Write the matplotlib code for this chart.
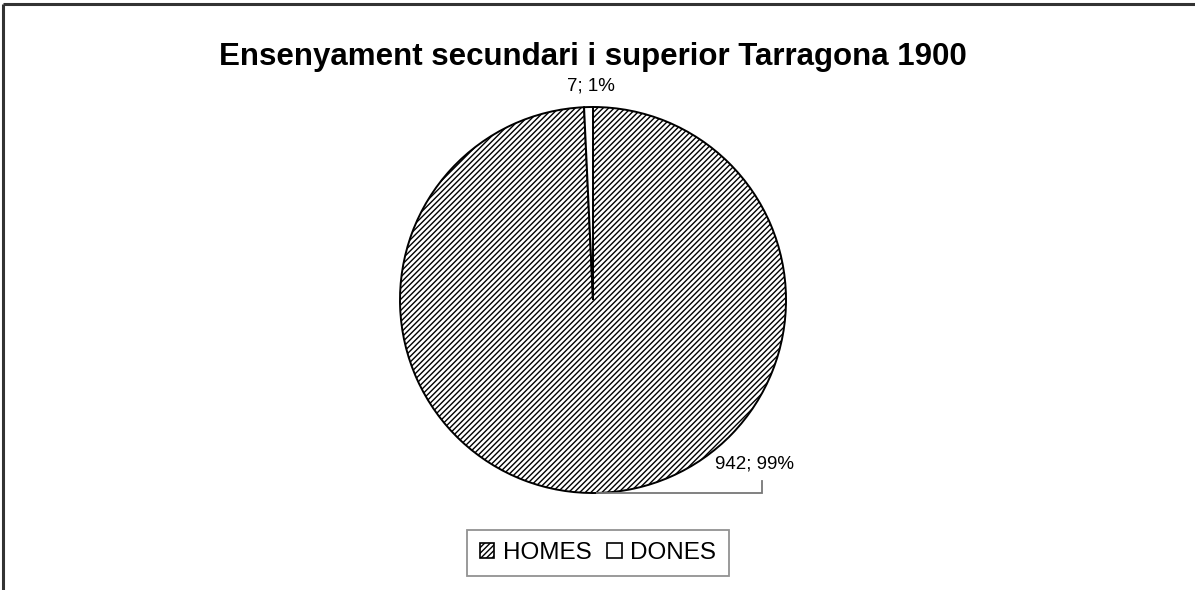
import numpy as np
import matplotlib.pyplot as plt
from matplotlib.patches import Patch

plt.rcParams['font.family'] = ['Liberation Sans', 'DejaVu Sans']
plt.rcParams['hatch.linewidth'] = 1.0
plt.rcParams['hatch.color'] = '#505050'

categories = ['HOMES', 'DONES']
values = [942, 7]
hatches = ['//////', '']
title = 'Ensenyament secundari i superior Tarragona 1900'

W, H = 1195, 590
fig = plt.figure(figsize=(W / 100, H / 100), dpi=100)
ax = fig.add_axes([0, 0, 1, 1])

# pie in pixel-like data coordinates (y up)
cx, cy, r = 593, H - 300, 193
total = sum(values)
wedges, _ = ax.pie(values, center=(cx, cy), radius=r, startangle=90,
                   counterclock=False, colors=['white', 'white'],
                   wedgeprops=dict(edgecolor='black', linewidth=1.4))
for w, h in zip(wedges, hatches):
    w.set_hatch(h)

ax.set_xlim(0, W)
ax.set_ylim(0, H)
ax.set_aspect('equal')
ax.axis('off')

# data labels
pcts = [round(v / total * 100) for v in values]
ax.text(591, H - 86, f'{values[1]}; {pcts[1]}%', ha='center', va='center',
        fontsize=13.5)
ax.text(755, H - 464, f'{values[0]}; {pcts[0]}%', ha='center', va='center',
        fontsize=13.5)

# leader line for the big slice
mid = np.deg2rad(90 - (values[0] / total) * 180)
px, py = cx + r * np.cos(mid), cy + r * np.sin(mid)
ax.plot([px, 762, 762], [py, py, H - 481], color='#777777', lw=1.3,
        solid_joinstyle='miter')

fig.text(593 / W, 1 - 57 / H, title, ha='center', va='center',
         fontsize=22.5, fontweight='bold')

handles = [Patch(facecolor='white', edgecolor='black', hatch=h, lw=1.2)
           for h in hatches]
leg = fig.legend(handles, categories, loc='center',
                 bbox_to_anchor=(598 / W, 1 - 553 / H), ncol=2,
                 fontsize=17.5, frameon=True, fancybox=False,
                 handlelength=0.6, handleheight=0.6, handletextpad=0.35,
                 columnspacing=0.65, borderpad=0.5, borderaxespad=0)
leg.get_frame().set_edgecolor('#777777')
leg.get_frame().set_linewidth(1.3)

# outer chart border (cut at right and bottom)
ax.plot([3.5, W + 5], [H - 3.5, H - 3.5], color='#333333', lw=2.2,
        solid_capstyle='butt')
ax.plot([3.5, 3.5], [H - 3.5, -5], color='#333333', lw=2.2,
        solid_capstyle='butt')

fig.savefig('out.png', dpi=100)
